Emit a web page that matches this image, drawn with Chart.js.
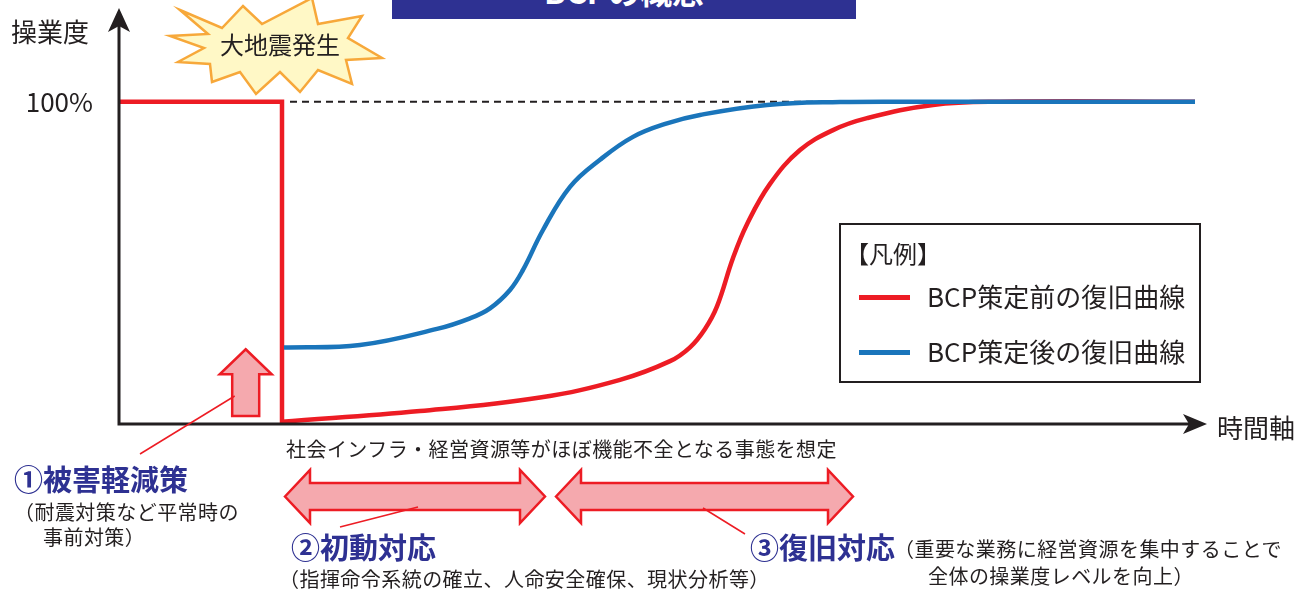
<!DOCTYPE html>
<html lang="ja">
<head>
<meta charset="UTF-8">
<script src="https://cdn.jsdelivr.net/npm/chart.js"></script>
<title>BCPの概念</title>
<style>
  body { margin: 0; width: 1297px; height: 590px; overflow: hidden; background: #fff;
         font-family: "Noto Sans CJK JP", "Noto Sans", sans-serif; color: #231f20; }
  #chart { position: absolute; left: 0; top: 0; }
  .t { position: absolute; white-space: nowrap; line-height: 1; }
  .s20 { font-size: 20px; letter-spacing: 0.45px; }
  .head { font-size: 29px; font-weight: 700; color: #2e3192; }
  #title { position: absolute; left: 392px; top: -30px; width: 464px; height: 49px;
           background: #2e3192; color: #fff; font-size: 32px; font-weight: 700;
           text-align: center; line-height: 40px; }
  #legend { position: absolute; left: 839px; top: 223px; width: 358px; height: 156px;
            border: 2.5px solid #231f20; }
  .sw { position: absolute; left: 18px; width: 51px; height: 5px; }
</style>
</head>
<body>
<canvas id="chart" width="1297" height="590"></canvas>
<div id="title">BCPの概念</div>

<div class="t" style="left:11px;top:18px;font-size:26px;">操業度</div>
<div class="t" style="left:220px;top:32px;font-size:24px;">大地震発生</div>
<div class="t" style="left:1217px;top:414px;font-size:26px;">時間軸</div>
<div class="t s20" style="left:286px;top:439px;">社会インフラ・経営資源等がほぼ機能不全となる事態を想定</div>

<div class="t head" style="left:14px;top:464px;">①被害軽減策</div>
<div class="t s20" style="left:14px;top:502px;">（耐震対策など平常時の</div>
<div class="t s20" style="left:43px;top:527px;">事前対策）</div>

<div class="t head" style="left:291px;top:532px;">②初動対応</div>
<div class="t s20" style="left:279px;top:569px;">（指揮命令系統の確立、人命安全確保、現状分析等）</div>

<div class="t head" style="left:750px;top:532px;">③復旧対応</div>
<div class="t s20" style="left:894px;top:539px;">（重要な業務に経営資源を集中することで</div>
<div class="t s20" style="left:928px;top:566px;">全体の操業度レベルを向上）</div>

<div id="legend">
  <div class="t" style="left:4px;top:16px;font-size:24px;">【凡例】</div>
  <div class="sw" style="top:70px;background:#ed1c24;"></div>
  <div class="t" style="left:86px;top:58px;font-size:26px;">BCP策定前の復旧曲線</div>
  <div class="sw" style="top:125px;background:#1a75bb;"></div>
  <div class="t" style="left:86px;top:113px;font-size:26px;">BCP策定後の復旧曲線</div>
</div>

<script>
// time axis (arbitrary units) and operating level (%)
const quakeTime = 16.2;
const normalLevel = 100;

// before BCP: step down at the quake, then slow recovery
const beforeStepX = [0, quakeTime, quakeTime];
const beforeStepY = [100, 100, 0.7];
const beforeX = [16.2, 30.0, 42.0, 50.0, 55.0, 57.0, 58.5, 59.7, 61.3, 62.7, 65.0, 68.0, 71.3, 74.7, 81.3, 88.0, 107.5];
const beforeY = [0.7, 4.0, 8.2, 13.7, 19.5, 23.8, 29.5, 36.5, 51.5, 62.0, 74.5, 85.0, 91.2, 94.9, 99.0, 100, 100];

// after BCP: smaller drop, faster recovery
const afterX = [16.4, 24.0, 31.7, 35.0, 37.0, 39.0, 40.3, 42.3, 45.0, 48.0, 51.3, 54.7, 58.0, 64.7, 72.0, 80.0, 107.5];
const afterY = [23.7, 24.5, 29.5, 32.8, 35.9, 41.6, 47.8, 60.2, 73.6, 82.0, 89.1, 93.3, 95.9, 99.0, 99.9, 100, 100];

// 100% reference line
const refX = [17.0, 107.5];
const refY = [normalLevel, normalLevel];

// phases below the axis: initial response, recovery
const phaseInitial = [16.5, 42.5];
const phaseRecovery = [43.6, 73.3];
// mitigation arrow (time, from level, to level)
const mitigation = { t: 12.57, from: 2.5, to: 23.2 };

const RED = '#ed1c24', BLUE = '#1a75bb', INK = '#231f20', PINK = '#f5a9ae';

function pts(xs, ys) { return xs.map((x, i) => ({ x: x, y: ys[i] })); }

function upArrow(ctx, cx, yTop, yBot) {
  ctx.beginPath();
  ctx.moveTo(cx, yTop);
  ctx.lineTo(cx + 26, yTop + 25);
  ctx.lineTo(cx + 13.5, yTop + 25);
  ctx.lineTo(cx + 13.5, yBot);
  ctx.lineTo(cx - 13.5, yBot);
  ctx.lineTo(cx - 13.5, yTop + 25);
  ctx.lineTo(cx - 26, yTop + 25);
  ctx.closePath();
  ctx.fillStyle = PINK; ctx.fill();
  ctx.strokeStyle = RED; ctx.lineWidth = 2.5; ctx.stroke();
}

function dblArrow(ctx, x1, x2, cy) {
  const hl = 25, hh = 26.5, sh = 13.5;
  ctx.beginPath();
  ctx.moveTo(x1, cy);
  ctx.lineTo(x1 + hl, cy - hh);
  ctx.lineTo(x1 + hl, cy - sh);
  ctx.lineTo(x2 - hl, cy - sh);
  ctx.lineTo(x2 - hl, cy - hh);
  ctx.lineTo(x2, cy);
  ctx.lineTo(x2 - hl, cy + hh);
  ctx.lineTo(x2 - hl, cy + sh);
  ctx.lineTo(x1 + hl, cy + sh);
  ctx.lineTo(x1 + hl, cy + hh);
  ctx.closePath();
  ctx.fillStyle = PINK; ctx.fill();
  ctx.strokeStyle = RED; ctx.lineWidth = 2.5; ctx.lineJoin = 'miter'; ctx.stroke();
}

function line(ctx, x1, y1, x2, y2) {
  ctx.beginPath(); ctx.moveTo(x1, y1); ctx.lineTo(x2, y2);
  ctx.strokeStyle = RED; ctx.lineWidth = 1.5; ctx.stroke();
}

const overlay = {
  id: 'overlay',
  afterDatasetsDraw(chart) {
    const ctx = chart.ctx, a = chart.chartArea;
    const xs = chart.scales.x, ys = chart.scales.y;
    ctx.save();

    // starburst
    const burst = [[180,10],[222,28],[243,6],[262,24],[312,-2],[318,24],[362,16],[348,38],[382,58],[346,60],
                   [352,84],[318,70],[300,92],[280,72],[256,94],[240,72],[212,82],[210,64],[178,62],[204,48],
                   [170,36],[208,34]];
    ctx.beginPath();
    burst.forEach((p, i) => i ? ctx.lineTo(p[0], p[1]) : ctx.moveTo(p[0], p[1]));
    ctx.closePath();
    ctx.fillStyle = '#fff8c6'; ctx.fill();
    ctx.strokeStyle = '#f7a83a'; ctx.lineWidth = 2.5; ctx.lineJoin = 'miter'; ctx.stroke();

    // axes with arrow heads
    ctx.strokeStyle = INK; ctx.fillStyle = INK; ctx.lineWidth = 3;
    ctx.beginPath();
    ctx.moveTo(a.left - 1, 25); ctx.lineTo(a.left - 1, a.bottom);
    ctx.lineTo(a.right - 14, a.bottom);
    ctx.stroke();
    ctx.beginPath();
    ctx.moveTo(a.left - 1, 8); ctx.lineTo(a.left + 10, 32); ctx.lineTo(a.left - 1, 26); ctx.lineTo(a.left - 12, 32);
    ctx.closePath(); ctx.fill();
    const tip = a.right + 2;
    ctx.beginPath();
    ctx.moveTo(tip, a.bottom); ctx.lineTo(tip - 24, a.bottom - 10); ctx.lineTo(tip - 18, a.bottom);
    ctx.lineTo(tip - 24, a.bottom + 10);
    ctx.closePath(); ctx.fill();

    // mitigation arrow
    const mx = xs.getPixelForValue(mitigation.t);
    upArrow(ctx, mx, ys.getPixelForValue(mitigation.to), ys.getPixelForValue(mitigation.from));
    line(ctx, mx - 11, 396, 140, 454);

    // phase arrows
    dblArrow(ctx, xs.getPixelForValue(phaseInitial[0]), xs.getPixelForValue(phaseInitial[1]), 496.5);
    dblArrow(ctx, xs.getPixelForValue(phaseRecovery[0]), xs.getPixelForValue(phaseRecovery[1]), 496.5);
    line(ctx, 340, 527, 418, 507);
    line(ctx, 703, 508, 745, 534);

    ctx.restore();
  }
};

new Chart(document.getElementById('chart'), {
  type: 'line',
  data: {
    datasets: [
      { data: pts(refX, refY), borderColor: INK, borderWidth: 2, borderDash: [7, 5], pointRadius: 0, order: 3 },
      { data: pts(beforeStepX, beforeStepY), borderColor: RED, borderWidth: 4.5, tension: 0,
        borderJoinStyle: 'miter', borderCapStyle: 'square', pointRadius: 0, order: 2 },
      { data: pts(beforeX, beforeY), borderColor: RED, borderWidth: 4.5, tension: 0.4,
        pointRadius: 0, order: 1 },
      { data: pts(afterX, afterY), borderColor: BLUE, borderWidth: 4.5, tension: 0.4,
        pointRadius: 0, order: 0 }
    ]
  },
  options: {
    responsive: false,
    animation: false,
    layout: { autoPadding: false, padding: { top: 11.5, right: 92, bottom: 166, left: 0 } },
    plugins: { legend: { display: false }, tooltip: { enabled: false } },
    scales: {
      x: { type: 'linear', min: 0, max: 108.5, display: false },
      y: {
        min: 0, max: 128,
        grid: { display: false, drawTicks: false },
        border: { display: false },
        afterBuildTicks: (axis) => { axis.ticks = [{ value: normalLevel }]; },
        afterFit: (axis) => { axis.width = 120; axis.paddingTop = 0; axis.paddingBottom = 0; },
        ticks: {
          padding: 27,
          color: INK,
          font: { family: '"Noto Sans CJK JP", "Noto Sans", sans-serif', size: 26 },
          callback: (v) => v + '%'
        }
      }
    }
  },
  plugins: [overlay]
});
</script>
</body>
</html>
